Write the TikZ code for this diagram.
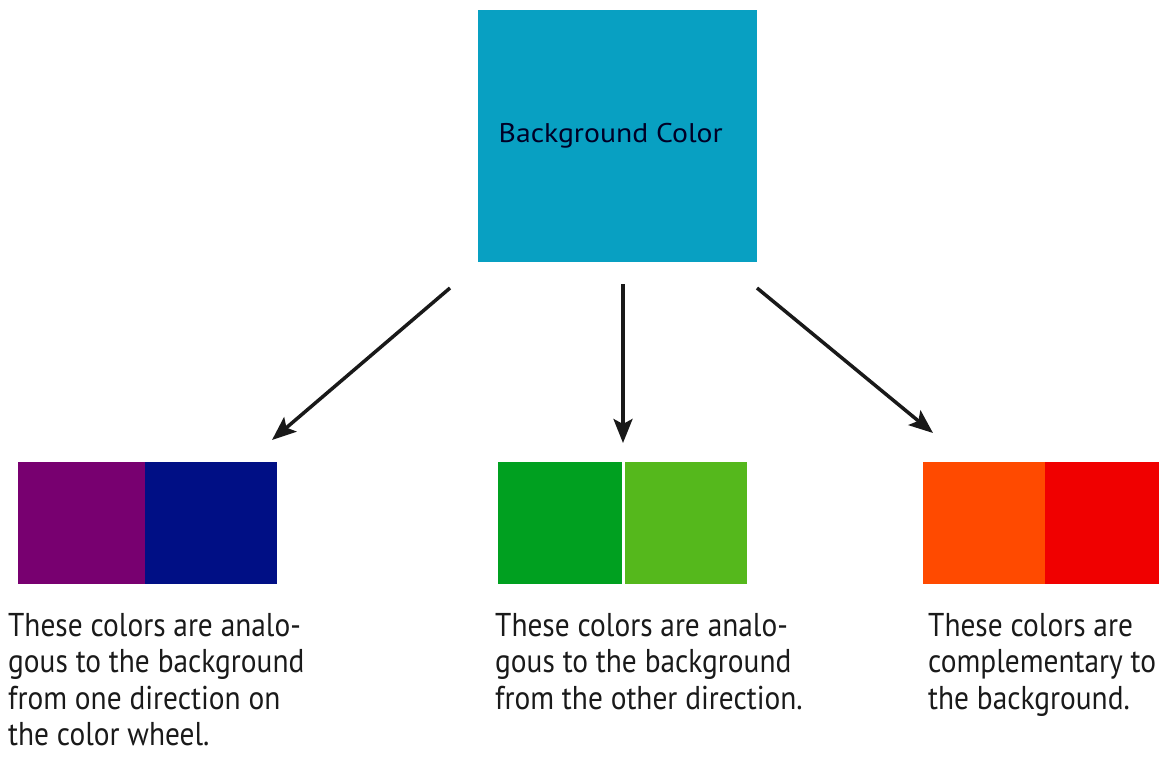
\documentclass[tikz,border=0pt]{standalone}
\usepackage{fontspec}
\setmainfont{PT Sans}
\newfontfamily\capfont[FakeStretch=0.89]{PT Sans}
\newfontfamily\boxfont[FakeStretch=1.1]{PT Sans}
\usetikzlibrary{arrows.meta}
\definecolor{bgcyan}{HTML}{08A0C2}
\definecolor{cpurple}{HTML}{780070}
\definecolor{cnavy}{HTML}{000F85}
\definecolor{cgreen}{HTML}{00A020}
\definecolor{clgreen}{HTML}{55B81C}
\definecolor{corange}{HTML}{FF4A00}
\definecolor{cred}{HTML}{F00000}
\definecolor{txt}{HTML}{1A1A1A}
\tikzset{
  swatch/.style={draw=none, inner sep=0pt, minimum height=122pt, anchor=north west},
  caption/.style={anchor=north west, inner sep=0pt, align=left, text=txt,
    font=\capfont\fontsize{33}{36.5}\selectfont},
  arr/.style={line width=3.5pt, draw=black!90, -{Stealth[length=24pt,width=19pt,inset=5pt]}},
}
\begin{document}
\begin{tikzpicture}[x=1pt,y=-1pt]
\fill[white] (0,0) rectangle (1159,778);
\useasboundingbox (0,0) rectangle (1159,778);
% top box
\node[fill=bgcyan, inner sep=0pt, minimum width=279pt, minimum height=252pt, anchor=north west,
  font=\boxfont\fontsize{27}{30}\selectfont, text=black!85!blue] (bg) at (478,10) {Background Color\kern14pt\relax};
% swatches
\node[swatch, fill=cpurple, minimum width=127pt] (s1a) at (18,462) {};
\node[swatch, fill=cnavy, minimum width=132pt] (s1b) at (145,462) {};
\node[swatch, fill=cgreen, minimum width=124pt] (s2a) at (498,462) {};
\node[swatch, fill=clgreen, minimum width=122pt] (s2b) at (625,462) {};
\node[swatch, fill=corange, minimum width=122pt] (s3a) at (923,462) {};
\node[swatch, fill=cred, minimum width=115pt] (s3b) at (1045,462) {};
% arrows
\coordinate (a1s) at (450,288);
\coordinate (a1e) at (272,440);
\coordinate (a2s) at (623,284);
\coordinate (a2e) at (623,443);
\coordinate (a3s) at (757,288);
\coordinate (a3e) at (933,433);
\draw[arr] (a1s) -- (a1e);
\draw[arr] (a2s) -- (a2e);
\draw[arr] (a3s) -- (a3e);
% captions
\node[caption] (c1) at (8,613) {These colors are analo-\\gous to the background\\from one direction on\\the color wheel.};
\node[caption] (c2) at (495,613) {These colors are analo-\\gous to the background\\from the other direction.};
\node[caption] (c3) at (928,613) {These colors are\\complementary to\\the background.};
\end{tikzpicture}
\end{document}
